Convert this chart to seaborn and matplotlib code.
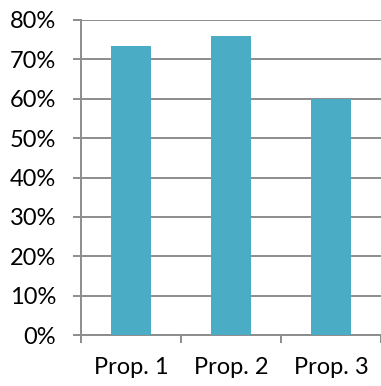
import matplotlib
matplotlib.use("Agg")
import matplotlib.pyplot as plt
import seaborn as sns
import pandas as pd
from matplotlib.ticker import FuncFormatter, FixedLocator

categories = ["Prop. 1", "Prop. 2", "Prop. 3"]
values = [0.735, 0.76, 0.60]

sns.set_theme(style="white")
plt.rcParams["font.family"] = ["Lato", "DejaVu Sans"]

df = pd.DataFrame({"cat": categories, "val": values})

fig = plt.figure(figsize=(3.81, 3.86), dpi=100)
ax = fig.add_axes([81 / 381, 1 - 335 / 386, 300 / 381, 315 / 386])

grid_c = "#8c8c8c"
sns.barplot(data=df, x="cat", y="val", color="#4BACC6", width=0.4,
            saturation=1, linewidth=0, ax=ax, zorder=3)

ax.set_ylim(0, 0.8)
ax.set_xlim(-0.5, 2.5)
ax.yaxis.set_major_locator(FixedLocator([i / 10 for i in range(9)]))
ax.yaxis.set_major_formatter(FuncFormatter(lambda v, p: f"{v * 100:.0f}%"))
ax.grid(axis="y", color=grid_c, linewidth=1.4, zorder=0)
ax.set_axisbelow(True)

ax.set_xlabel("")
ax.set_ylabel("")
for s in ["top", "right"]:
    ax.spines[s].set_visible(False)
for s in ["left", "bottom"]:
    ax.spines[s].set_color(grid_c)
    ax.spines[s].set_linewidth(1.4)

ax.xaxis.set_minor_locator(FixedLocator([-0.5, 0.5, 1.5, 2.5]))
ax.tick_params(axis="x", which="major", length=0, pad=16, labelsize=17,
               labelcolor="black")
ax.tick_params(axis="x", which="minor", bottom=True, length=6,
               width=1.4, color=grid_c)
ax.tick_params(axis="y", left=True, length=6, width=1.4, color=grid_c,
               pad=12, labelsize=17, labelcolor="black")

fig.savefig("out.png", dpi=100)
